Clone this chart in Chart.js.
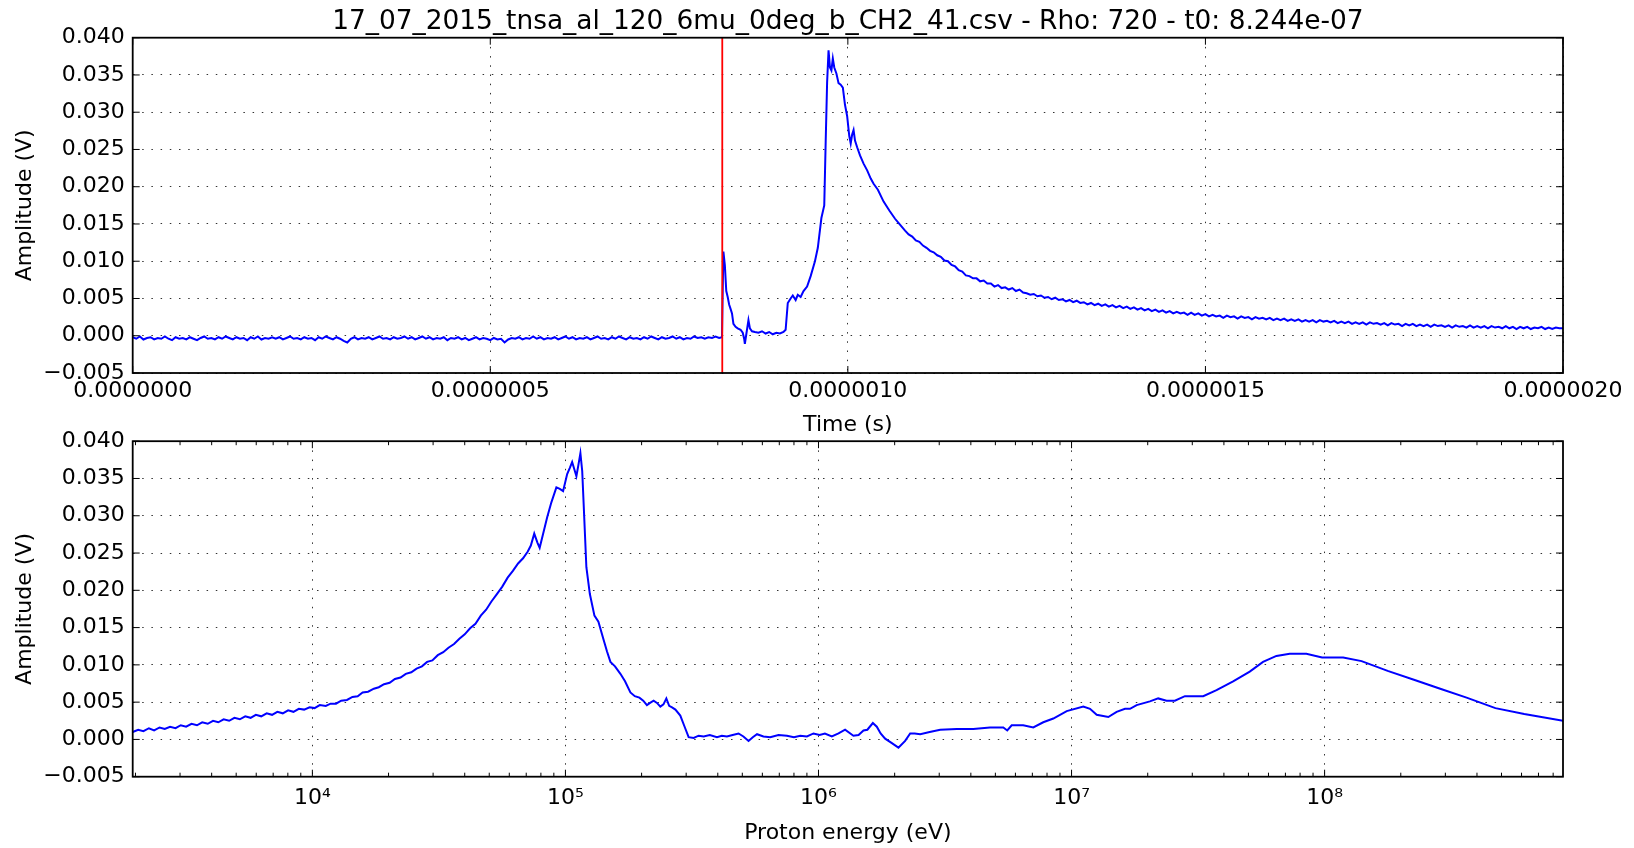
<!DOCTYPE html>
<html><head><meta charset="utf-8">
<script src="https://cdn.jsdelivr.net/npm/chart.js@4.4.0/dist/chart.umd.min.js"></script>
<style>
html,body{margin:0;padding:0;background:#fff;width:1634px;height:848px;overflow:hidden;}
canvas{position:absolute;left:0;}
#c1{top:0;width:1634px;height:439px;}
#c2{top:420px;width:1634px;height:428px;}
</style></head><body>
<canvas id="c1" width="1634" height="439"></canvas>
<canvas id="c2" width="1634" height="428"></canvas>
<script>
// ---------------- data ----------------
const TITLE = '17_07_2015_tnsa_al_120_6mu_0deg_b_CH2_41.csv - Rho: 720 - t0: 8.244e-07';
const T0 = 8.244e-07;

// top panel, part 1: pre-trigger baseline, sampled every 5 ns from 0 ns
const BASE_START_NS = 0, BASE_STEP_NS = 5;
const BASE_AMP = [
-0.0002,-0.0004,-0.0001,-0.0005,-0.0003,-0.0002,-0.0005,-0.0003,-0.0004,-0.0001,-0.0004,-0.0006,-0.0002,-0.0004,-0.0003,-0.0005,-0.0002,-0.0004,-0.0006,-0.0003,
-0.0001,-0.0004,-0.0003,-0.0005,-0.0002,-0.0004,-0.0001,-0.0003,-0.0005,-0.0002,-0.0004,-0.0003,-0.0006,-0.0002,-0.0004,-0.0001,-0.0005,-0.0003,-0.0004,-0.0002,
-0.0004,-0.0002,-0.0005,-0.0003,-0.0001,-0.0004,-0.0003,-0.0005,-0.0002,-0.0004,-0.0003,-0.0006,-0.0002,-0.0004,-0.0001,-0.0003,-0.0005,-0.0002,-0.0004,-0.0007,
-0.0009,-0.0004,-0.0002,-0.0005,-0.0003,-0.0004,-0.0002,-0.0005,-0.0003,-0.0001,-0.0004,-0.0003,-0.0005,-0.0002,-0.0004,-0.0003,-0.0001,-0.0004,-0.0002,-0.0005,
-0.0003,-0.0001,-0.0004,-0.0002,-0.0005,-0.0003,-0.0004,-0.0002,-0.0006,-0.0003,-0.0004,-0.0002,-0.0005,-0.0003,-0.0006,-0.0004,-0.0002,-0.0005,-0.0003,-0.0004,
-0.0006,-0.0003,-0.0005,-0.0004,-0.0009,-0.0005,-0.0003,-0.0004,-0.0002,-0.0005,-0.0003,-0.0004,-0.0001,-0.0004,-0.0002,-0.0005,-0.0003,-0.0004,-0.0002,-0.0005,
-0.0003,-0.0001,-0.0004,-0.0002,-0.0005,-0.0003,-0.0004,-0.0002,-0.0005,-0.0003,-0.0001,-0.0004,-0.0003,-0.0005,-0.0002,-0.0004,-0.0001,-0.0003,-0.0005,-0.0002,
-0.0004,-0.0003,-0.0005,-0.0002,-0.0004,-0.0001,-0.0003,-0.0005,-0.0002,-0.0004,-0.0003,-0.0001,-0.0004,-0.0002,-0.0005,-0.0003,-0.0004,-0.0001,-0.0003,-0.0002,
-0.0004,-0.0002,-0.0003,-0.0001,-0.0003];

// top panel, part 2: the pulse (irregular times, ns)
const PULSE_NS = [
824,825,826,828,830,832,834,836,838,840,843,846,850,853,855,856,858,861,863,866,
870,875,880,885,890,895,900,905,910,913,916,920,923,927,930,934,938,943,948,954,
958,963,967,969,971,973,975,977,979,981,984,987,990,993,996,999,1002,1004,1006,1008,
1010,1013,1017,1022,1027,1032,1036,1042,1050,1058,1066,1072];
const PULSE_AMP = [
-0.0002,0.0060,0.0113,0.0095,0.0060,0.0052,0.0042,0.0036,0.0030,0.0016,0.0012,0.0010,0.0008,0.0004,-0.0004,-0.0011,0.0002,0.0021,0.0010,0.0006,
0.0005,0.0004,0.0006,0.0003,0.0005,0.0002,0.0004,0.0003,0.0005,0.0008,0.0044,0.0050,0.0054,0.0048,0.0055,0.0052,0.0060,0.0066,0.0080,0.0100,
0.0118,0.0158,0.0175,0.0260,0.0340,0.0383,0.0360,0.0356,0.0372,0.0360,0.0352,0.0339,0.0337,0.0333,0.0310,0.0295,0.0268,0.0258,0.0270,0.0276,
0.0262,0.0253,0.0242,0.0231,0.0222,0.0211,0.0204,0.0196,0.0180,0.0168,0.0157,0.0150];

// top panel, part 3: decay tail, sampled every 5 ns from 1080 ns
const TAIL_START_NS = 1080, TAIL_STEP_NS = 5;
const TAIL_AMP = [
0.0141,0.0136,0.0133,0.0128,0.0126,0.0121,0.0118,0.0114,0.0112,0.0108,0.0106,0.0101,0.0100,0.0095,0.0093,0.0088,0.0086,0.0081,0.0080,0.0077,
0.0077,0.0073,0.0074,0.0070,0.0070,0.0066,0.0068,0.0064,0.0065,0.0062,0.0064,0.0060,0.0062,0.0058,0.0057,0.0055,0.0056,0.0053,0.0054,0.0051,
0.0052,0.0049,0.0051,0.0048,0.0049,0.0046,0.0048,0.0045,0.0047,0.0044,0.0045,0.0042,0.0044,0.0041,0.0043,0.0040,0.0042,0.0039,0.0041,0.0038,
0.0040,0.0037,0.0039,0.0036,0.0038,0.0035,0.0037,0.0034,0.0036,0.0033,0.0035,0.0032,0.0034,0.0031,0.0033,0.0030,0.0032,0.0030,0.0031,0.0028,
0.0031,0.0028,0.0030,0.0027,0.0029,0.0026,0.0028,0.0026,0.0027,0.0024,0.0027,0.0025,0.0026,0.0023,0.0026,0.0024,0.0025,0.0022,0.0025,0.0023,
0.0024,0.0022,0.0024,0.0021,0.0023,0.0021,0.0023,0.0020,0.0022,0.0020,0.0022,0.0019,0.0021,0.0019,0.0021,0.0018,0.0021,0.0019,0.0020,0.0018,
0.0020,0.0017,0.0019,0.0017,0.0019,0.0016,0.0018,0.0016,0.0018,0.0015,0.0018,0.0016,0.0017,0.0015,0.0017,0.0014,0.0017,0.0015,0.0016,0.0013,
0.0016,0.0014,0.0016,0.0013,0.0015,0.0013,0.0015,0.0012,0.0015,0.0013,0.0014,0.0012,0.0014,0.0011,0.0014,0.0012,0.0013,0.0011,0.0014,0.0011,
0.0013,0.0011,0.0013,0.0010,0.0013,0.0011,0.0012,0.0010,0.0013,0.0010,0.0012,0.0009,0.0012,0.0010,0.0012,0.0009,0.0011,0.0010,0.0012,0.0009,
0.0011,0.0009,0.0011,0.0010,0.0010];

// bottom panel: proton energy (eV) vs amplitude (V)
const ENERGY_EV = [
1950,2050,2150,2260,2370,2490,2610,2740,2880,3020,3170,3330,3500,3670,3860,4050,4250,4460,4690,4920,
5170,5430,5700,5980,6280,6600,6930,7270,7640,8020,8420,8840,9280,9750,10200,10700,11300,11800,12400,13000,
13700,14400,15100,15800,16600,17500,18300,19200,20200,21200,22300,23400,24600,25800,27100,28400,29800,31300,32900,34500,
36300,38100,40000,42000,44100,46300,48600,51000,53600,56300,59100,62000,65000,68000,71000,73000,75300,77500,79100,81500,
84700,88000,92100,95000,97900,101600,104000,106300,108500,110500,112500,114600,116500,118200,121000,124900,130200,135000,141700,146000,
150600,157000,164900,172000,180600,188000,196000,203000,209900,216000,223100,230000,237200,244000,250500,257000,263800,272000,284400,295000,
306800,321300,336000,351800,372000,397100,415000,434700,458000,483100,505000,529200,550000,571600,606000,644500,695000,750300,800000,847000,
900000,955900,1010000,1060000,1129000,1200000,1274000,1374000,1440000,1506000,1560000,1640000,1700000,1760000,1834000,1950000,2070000,2200000,2303000,2400000,
2523000,2750000,3027000,3518000,4090000,4760000,5375000,5570000,5800000,6440000,7060000,7730000,8470000,9570000,11130000,11830000,12570000,13970000,15070000,16260000,
17020000,18080000,20400000,22000000,23740000,25600000,28050000,33140000,37400000,43500000,50600000,57100000,64500000,72800000,84700000,97700000,118400000,140000000,177500000,225400000,
286300000,364000000,473000000,615000000,875000000];
const AMP_ENERGY = [
0.0010,0.0013,0.0011,0.0015,0.0012,0.0016,0.0014,0.0017,0.0015,0.0019,0.0017,0.0021,0.0019,0.0023,0.0021,0.0025,0.0023,0.0027,0.0025,0.0029,
0.0027,0.0031,0.0029,0.0033,0.0031,0.0035,0.0033,0.0037,0.0035,0.0039,0.0037,0.0041,0.0040,0.0043,0.0042,0.0046,0.0045,0.0048,0.0048,0.0052,
0.0053,0.0057,0.0058,0.0063,0.0064,0.0068,0.0070,0.0074,0.0076,0.0081,0.0083,0.0088,0.0090,0.0095,0.0098,0.0104,0.0106,0.0113,0.0117,0.0123,
0.0128,0.0135,0.0141,0.0149,0.0155,0.0166,0.0174,0.0185,0.0195,0.0205,0.0217,0.0226,0.0236,0.0243,0.0252,0.0260,0.0276,0.0264,0.0257,0.0275,
0.0298,0.0318,0.0338,0.0336,0.0333,0.0356,0.0364,0.0372,0.0362,0.0353,0.0368,0.0384,0.0360,0.0311,0.0231,0.0195,0.0166,0.0158,0.0133,0.0118,
0.0104,0.0098,0.0088,0.0078,0.0063,0.0058,0.0056,0.0052,0.0046,0.0049,0.0052,0.0049,0.0044,0.0047,0.0055,0.0045,0.0043,0.0040,0.0032,0.0018,
0.0003,0.0002,0.0005,0.0004,0.0006,0.0003,0.0005,0.0004,0.0006,0.0008,0.0004,-0.0002,0.0003,0.0007,0.0004,0.0003,0.0006,0.0005,0.0003,0.0005,
0.0004,0.0008,0.0006,0.0008,0.0004,0.0008,0.0013,0.0005,0.0006,0.0012,0.0013,0.0022,0.0017,0.0008,0.0001,-0.0005,-0.0011,-0.0002,0.0008,0.0008,
0.0007,0.0010,0.0013,0.0014,0.0014,0.0016,0.0016,0.0012,0.0019,0.0019,0.0016,0.0023,0.0028,0.0038,0.0044,0.0041,0.0033,0.0030,0.0037,0.0041,
0.0041,0.0046,0.0051,0.0055,0.0052,0.0052,0.0058,0.0058,0.0066,0.0078,0.0091,0.0104,0.0112,0.0115,0.0115,0.0110,0.0110,0.0105,0.0092,0.0080,
0.0068,0.0056,0.0042,0.0034,0.0025];

// axes / ticks
const TIME_RANGE = [0, 2e-6];
const ENERGY_RANGE = [1950, 8.75e8];
const AMP_RANGE = [-0.005, 0.04];
const TIME_TICKS = [0, 5e-7, 1e-6, 1.5e-6, 2e-6];
const TIME_TICK_LABELS = ['0.0000000','0.0000005','0.0000010','0.0000015','0.0000020'];
const AMP_TICKS = [-0.005, 0, 0.005, 0.01, 0.015, 0.02, 0.025, 0.03, 0.035, 0.04];
const AMP_TICK_LABELS = ['\u22120.005','0.000','0.005','0.010','0.015','0.020','0.025','0.030','0.035','0.040'];
const ENERGY_TICKS = [1e4, 1e5, 1e6, 1e7, 1e8];
const ENERGY_TICK_LABELS = ['10\u2074','10\u2075','10\u2076','10\u2077','10\u2078'];
const X_LABEL_TOP = 'Time (s)';
const X_LABEL_BOTTOM = 'Proton energy (eV)';
const Y_LABEL = 'Amplitude (V)';

// ---------------- assemble top series (ns -> s) ----------------
const timeSeries = [];
BASE_AMP.forEach((v, i) => timeSeries.push({ x: (BASE_START_NS + i * BASE_STEP_NS) * 1e-9, y: v }));
PULSE_AMP.forEach((v, i) => timeSeries.push({ x: PULSE_NS[i] * 1e-9, y: v }));
TAIL_AMP.forEach((v, i) => timeSeries.push({ x: (TAIL_START_NS + i * TAIL_STEP_NS) * 1e-9, y: v }));

// ---------------- drawing ----------------
const FONT = 'DejaVu Sans';
const LINE_BLUE = '#0000ff';

function logMinorTicks(lo, hi) {
  const out = [];
  for (let e = Math.floor(Math.log10(lo)); e <= Math.ceil(Math.log10(hi)); e++) {
    for (let k = 2; k <= 9; k++) {
      const v = k * Math.pow(10, e);
      if (v > lo && v < hi) out.push(v);
    }
  }
  return out;
}

const frameTicks = {
  id: 'frameTicks',
  afterDatasetsDraw(chart, args, opts) {
    const {ctx, chartArea: a, scales} = chart;
    const xs = scales.x, ys = scales.y;
    ctx.save();
    ctx.strokeStyle = '#000';
    ctx.lineWidth = 1;
    const seg = (x1, y1, x2, y2) => { ctx.beginPath(); ctx.moveTo(x1, y1); ctx.lineTo(x2, y2); ctx.stroke(); };
    const MAJ = 7, MIN = 4;
    (opts.xMajor || []).forEach(v => { const p = xs.getPixelForValue(v); seg(p, a.bottom, p, a.bottom - MAJ); seg(p, a.top, p, a.top + MAJ); });
    (opts.xMinor || []).forEach(v => { const p = xs.getPixelForValue(v); seg(p, a.bottom, p, a.bottom - MIN); seg(p, a.top, p, a.top + MIN); });
    (opts.yMajor || []).forEach(v => { const p = ys.getPixelForValue(v); seg(a.left, p, a.left + MAJ, p); seg(a.right, p, a.right - MAJ, p); });
    ctx.lineWidth = 1.8;
    ctx.strokeRect(a.left, a.top, a.right - a.left, a.bottom - a.top);
    ctx.restore();
  }
};

const gridOpts = { color: 'rgba(0,0,0,0.8)', lineWidth: 1, drawTicks: false };
const borderOpts = { display: false, dash: [1.5, 7.7] };
const tickFont = { family: FONT, size: 22 };

function yScale(chartAreaLeft) {
  return {
    type: 'linear', position: 'left',
    min: AMP_RANGE[0], max: AMP_RANGE[1],
    afterBuildTicks: s => { s.ticks = AMP_TICKS.map(v => ({ value: v })); },
    afterFit: s => { s.width = chartAreaLeft; },
    grid: gridOpts, border: borderOpts,
    ticks: { font: tickFont, color: '#000', padding: 8, callback: (v, i) => AMP_TICK_LABELS[i] },
    title: { display: true, text: Y_LABEL, font: { family: FONT, size: 22 }, color: '#000', padding: { top: 11.8, bottom: 0 } }
  };
}

// top chart
new Chart(document.getElementById('c1'), {
  type: 'line',
  data: {
    datasets: [
      { label: 't0', data: [{ x: T0, y: AMP_RANGE[0] }, { x: T0, y: AMP_RANGE[1] }],
        borderColor: '#ff0000', borderWidth: 1.8, pointRadius: 0, order: 0 },
      { label: 'signal', data: timeSeries,
        borderColor: LINE_BLUE, borderWidth: 2, pointRadius: 0, tension: 0, order: 1 }
    ]
  },
  options: {
    responsive: false, animation: false, devicePixelRatio: 1,
    layout: { padding: { left: 0, right: 71, top: 0, bottom: 0 }, autoPadding: false },
    plugins: {
      legend: { display: false }, tooltip: { enabled: false },
      title: { display: true, fullSize: false, text: TITLE, color: '#000', font: { family: FONT, size: 26.4, weight: 'normal' }, padding: { top: 6, bottom: 0.02 } },
      frameTicks: { xMajor: TIME_TICKS, yMajor: AMP_TICKS }
    },
    scales: {
      x: {
        type: 'linear', position: 'bottom', min: TIME_RANGE[0], max: TIME_RANGE[1],
        afterBuildTicks: s => { s.ticks = TIME_TICKS.map(v => ({ value: v })); },
        afterFit: s => { s.height = 66; },
        grid: gridOpts, border: borderOpts,
        ticks: { font: tickFont, color: '#000', padding: 5, maxRotation: 0, autoSkip: false, callback: (v, i) => TIME_TICK_LABELS[i] },
        title: { display: true, text: X_LABEL_TOP, font: { family: FONT, size: 22 }, color: '#000', padding: { top: 0, bottom: 0.8 } }
      },
      y: yScale(132.7)
    }
  },
  plugins: [frameTicks]
});

// bottom chart
new Chart(document.getElementById('c2'), {
  type: 'line',
  data: {
    datasets: [
      { label: 'spectrum', data: ENERGY_EV.map((e, i) => ({ x: e, y: AMP_ENERGY[i] })),
        borderColor: LINE_BLUE, borderWidth: 2, pointRadius: 0, tension: 0 }
    ]
  },
  options: {
    responsive: false, animation: false, devicePixelRatio: 1,
    layout: { padding: { left: 0, right: 71, top: 20, bottom: 0 }, autoPadding: false },
    plugins: {
      legend: { display: false }, tooltip: { enabled: false },
      frameTicks: { xMajor: ENERGY_TICKS, xMinor: logMinorTicks(ENERGY_RANGE[0], ENERGY_RANGE[1]).filter(v => ENERGY_TICKS.indexOf(v) < 0), yMajor: AMP_TICKS }
    },
    scales: {
      x: {
        type: 'logarithmic', position: 'bottom', min: ENERGY_RANGE[0], max: ENERGY_RANGE[1],
        afterBuildTicks: s => { s.ticks = ENERGY_TICKS.map(v => ({ value: v, major: true })); },
        afterFit: s => { s.height = 71.3; },
        grid: gridOpts, border: borderOpts,
        ticks: { font: tickFont, color: '#000', padding: 8, maxRotation: 0, autoSkip: false, callback: (v, i) => ENERGY_TICK_LABELS[i] },
        title: { display: true, text: X_LABEL_BOTTOM, font: { family: FONT, size: 22 }, color: '#000', padding: { top: 0, bottom: 1.1 } }
      },
      y: yScale(132.7)
    }
  },
  plugins: [frameTicks]
});
</script></body></html>
